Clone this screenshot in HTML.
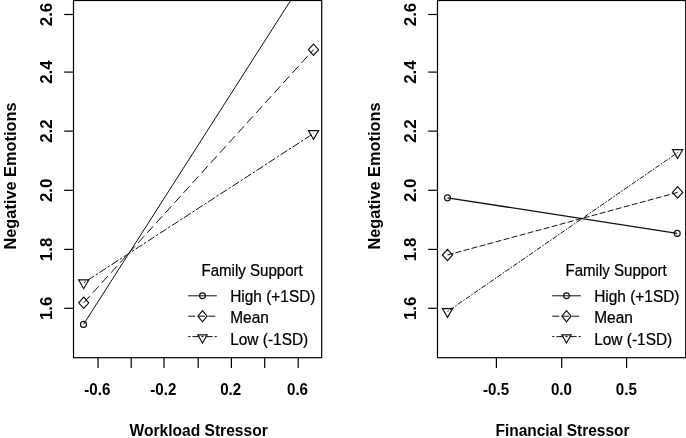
<!DOCTYPE html>
<html><head><meta charset="utf-8"><title>Interaction plots</title>
<style>
html,body{margin:0;padding:0;background:#fff;}
body{width:686px;height:438px;overflow:hidden;}
svg{display:block;}
text{font-family:"Liberation Sans",Arial,Helvetica,sans-serif;fill:#000;}
text.b{font-weight:bold;font-size:16.5px;}
text.r{font-weight:normal;font-size:16.6px;fill:#000;stroke:#000;stroke-width:0.25px;}
text.yt{font-size:16.9px;}
text.xt{font-size:16.9px;}
</style></head><body>
<svg width="686" height="438" viewBox="0 0 686 438">
<rect x="0" y="0" width="686" height="438" fill="#fff"/>
<clipPath id="cl"><rect x="73.5" y="0.5" width="248.2" height="357.2"/></clipPath>
<line x1="83.5" y1="324.4" x2="313.5" y2="-35.3" stroke="#111" stroke-width="1.0" clip-path="url(#cl)"/>
<line x1="83.7" y1="302.8" x2="313.5" y2="49.7" stroke="#111" stroke-width="1.0" stroke-dasharray="9 4.5" clip-path="url(#cl)"/>
<line x1="83.7" y1="282.8" x2="313.5" y2="133.5" stroke="#111" stroke-width="1.0" stroke-dasharray="2.4 2 8 2" clip-path="url(#cl)"/>
<circle cx="83.5" cy="324.4" r="3" fill="none" stroke="#111" stroke-width="1.15"/>
<polygon points="78.60000000000001,302.8 83.7,297.1 88.8,302.8 83.7,308.5" fill="none" stroke="#111" stroke-width="1.15"/>
<polygon points="308.4,49.7 313.5,44.0 318.6,49.7 313.5,55.400000000000006" fill="none" stroke="#111" stroke-width="1.15"/>
<polygon points="83.70,288.70 88.81,279.85 78.59,279.85" fill="none" stroke="#111" stroke-width="1.15"/>
<polygon points="313.50,139.40 318.61,130.55 308.39,130.55" fill="none" stroke="#111" stroke-width="1.15"/>
<rect x="73.5" y="0.5" width="248.2" height="357.2" fill="none" stroke="#000" stroke-width="1.2"/>
<line x1="64.2" y1="308.3" x2="73.5" y2="308.3" stroke="#000" stroke-width="1.2"/>
<text class="b yt" text-anchor="middle" transform="translate(51.9,308.3) rotate(-90)">1.6</text>
<line x1="64.2" y1="249.4" x2="73.5" y2="249.4" stroke="#000" stroke-width="1.2"/>
<text class="b yt" text-anchor="middle" transform="translate(51.9,249.4) rotate(-90)">1.8</text>
<line x1="64.2" y1="190.3" x2="73.5" y2="190.3" stroke="#000" stroke-width="1.2"/>
<text class="b yt" text-anchor="middle" transform="translate(51.9,190.3) rotate(-90)">2.0</text>
<line x1="64.2" y1="131.1" x2="73.5" y2="131.1" stroke="#000" stroke-width="1.2"/>
<text class="b yt" text-anchor="middle" transform="translate(51.9,131.1) rotate(-90)">2.2</text>
<line x1="64.2" y1="72.1" x2="73.5" y2="72.1" stroke="#000" stroke-width="1.2"/>
<text class="b yt" text-anchor="middle" transform="translate(51.9,72.1) rotate(-90)">2.4</text>
<line x1="64.2" y1="14.5" x2="73.5" y2="14.5" stroke="#000" stroke-width="1.2"/>
<text class="b yt" text-anchor="middle" transform="translate(51.9,14.5) rotate(-90)">2.6</text>
<text class="b" text-anchor="middle" textLength="147" lengthAdjust="spacingAndGlyphs" transform="translate(15.7,176) rotate(-90)">Negative Emotions</text>
<line x1="98.05" y1="357.7" x2="98.05" y2="367.9" stroke="#000" stroke-width="1.2"/>
<line x1="131.2" y1="357.7" x2="131.2" y2="367.9" stroke="#000" stroke-width="1.2"/>
<line x1="164.0" y1="357.7" x2="164.0" y2="367.9" stroke="#000" stroke-width="1.2"/>
<line x1="198.2" y1="357.7" x2="198.2" y2="367.9" stroke="#000" stroke-width="1.2"/>
<line x1="231.4" y1="357.7" x2="231.4" y2="367.9" stroke="#000" stroke-width="1.2"/>
<line x1="264.7" y1="357.7" x2="264.7" y2="367.9" stroke="#000" stroke-width="1.2"/>
<line x1="298.2" y1="357.7" x2="298.2" y2="367.9" stroke="#000" stroke-width="1.2"/>
<text class="b xt" text-anchor="middle" transform="translate(97.35,394.8) scale(0.895,1)">-0.6</text>
<text class="b xt" text-anchor="middle" transform="translate(163.3,394.8) scale(0.895,1)">-0.2</text>
<text class="b xt" text-anchor="middle" transform="translate(230.70000000000002,394.8) scale(0.895,1)">0.2</text>
<text class="b xt" text-anchor="middle" transform="translate(297.5,394.8) scale(0.895,1)">0.6</text>
<text class="b" text-anchor="middle" transform="translate(198.6,436.2) scale(0.945,1)">Workload Stressor</text>
<line x1="188.2" y1="295.8" x2="216.8" y2="295.8" stroke="#111" stroke-width="1"/>
<circle cx="202.5" cy="295.8" r="2.9" fill="none" stroke="#111" stroke-width="1.15"/>
<line x1="188.2" y1="316.2" x2="216.8" y2="316.2" stroke="#111" stroke-width="1" stroke-dasharray="7 3"/>
<polygon points="197.9,316.2 202.5,310.59999999999997 207.1,316.2 202.5,321.8" fill="none" stroke="#111" stroke-width="1.15"/>
<line x1="188.2" y1="336.6" x2="216.8" y2="336.6" stroke="#111" stroke-width="1" stroke-dasharray="2.2 2 7 2"/>
<polygon points="202.50,343.00 207.18,334.90 197.82,334.90" fill="none" stroke="#111" stroke-width="1.15"/>
<text class="r" transform="translate(201.5,275.8) scale(0.908,1)">Family Support</text>
<text class="r" transform="translate(230.2,302.3) scale(0.93,1)">High (+1SD)</text>
<text class="r" transform="translate(230.2,323.4) scale(0.93,1)">Mean</text>
<text class="r" transform="translate(230.2,344.5) scale(0.93,1)">Low (-1SD)</text>
<clipPath id="cr"><rect x="437.5" y="0.5" width="248.20000000000005" height="357.2"/></clipPath>
<line x1="447.5" y1="197.8" x2="677.2" y2="233.4" stroke="#111" stroke-width="1.35" clip-path="url(#cr)"/>
<line x1="447.5" y1="255.0" x2="677.6" y2="192.4" stroke="#111" stroke-width="1.0" stroke-dasharray="6 2.3" clip-path="url(#cr)"/>
<line x1="447.5" y1="311.5" x2="677.6" y2="152.6" stroke="#111" stroke-width="1.0" stroke-dasharray="1.6 1.5 5 1.5" clip-path="url(#cr)"/>
<circle cx="447.5" cy="197.8" r="3" fill="none" stroke="#111" stroke-width="1.15"/>
<circle cx="677.2" cy="233.4" r="3" fill="none" stroke="#111" stroke-width="1.15"/>
<polygon points="442.4,255.0 447.5,249.3 452.6,255.0 447.5,260.7" fill="none" stroke="#111" stroke-width="1.15"/>
<polygon points="672.5,192.4 677.6,186.70000000000002 682.7,192.4 677.6,198.1" fill="none" stroke="#111" stroke-width="1.15"/>
<polygon points="447.50,317.40 452.61,308.55 442.39,308.55" fill="none" stroke="#111" stroke-width="1.15"/>
<polygon points="677.60,158.50 682.71,149.65 672.49,149.65" fill="none" stroke="#111" stroke-width="1.15"/>
<rect x="437.5" y="0.5" width="248.20000000000005" height="357.2" fill="none" stroke="#000" stroke-width="1.2"/>
<line x1="428.2" y1="308.3" x2="437.5" y2="308.3" stroke="#000" stroke-width="1.2"/>
<text class="b yt" text-anchor="middle" transform="translate(415.9,308.3) rotate(-90)">1.6</text>
<line x1="428.2" y1="249.4" x2="437.5" y2="249.4" stroke="#000" stroke-width="1.2"/>
<text class="b yt" text-anchor="middle" transform="translate(415.9,249.4) rotate(-90)">1.8</text>
<line x1="428.2" y1="190.3" x2="437.5" y2="190.3" stroke="#000" stroke-width="1.2"/>
<text class="b yt" text-anchor="middle" transform="translate(415.9,190.3) rotate(-90)">2.0</text>
<line x1="428.2" y1="131.1" x2="437.5" y2="131.1" stroke="#000" stroke-width="1.2"/>
<text class="b yt" text-anchor="middle" transform="translate(415.9,131.1) rotate(-90)">2.2</text>
<line x1="428.2" y1="72.1" x2="437.5" y2="72.1" stroke="#000" stroke-width="1.2"/>
<text class="b yt" text-anchor="middle" transform="translate(415.9,72.1) rotate(-90)">2.4</text>
<line x1="428.2" y1="14.5" x2="437.5" y2="14.5" stroke="#000" stroke-width="1.2"/>
<text class="b yt" text-anchor="middle" transform="translate(415.9,14.5) rotate(-90)">2.6</text>
<text class="b" text-anchor="middle" textLength="147" lengthAdjust="spacingAndGlyphs" transform="translate(379.7,176) rotate(-90)">Negative Emotions</text>
<line x1="496.4" y1="357.7" x2="496.4" y2="367.9" stroke="#000" stroke-width="1.2"/>
<line x1="561.7" y1="357.7" x2="561.7" y2="367.9" stroke="#000" stroke-width="1.2"/>
<line x1="626.6" y1="357.7" x2="626.6" y2="367.9" stroke="#000" stroke-width="1.2"/>
<text class="b xt" text-anchor="middle" transform="translate(496.09999999999997,394.8) scale(0.895,1)">-0.5</text>
<text class="b xt" text-anchor="middle" transform="translate(561.4000000000001,394.8) scale(0.895,1)">0.0</text>
<text class="b xt" text-anchor="middle" transform="translate(626.3000000000001,394.8) scale(0.895,1)">0.5</text>
<text class="b" text-anchor="middle" transform="translate(562.5,436.2) scale(0.938,1)">Financial Stressor</text>
<line x1="552.2" y1="295.8" x2="580.8" y2="295.8" stroke="#111" stroke-width="1"/>
<circle cx="566.5" cy="295.8" r="2.9" fill="none" stroke="#111" stroke-width="1.15"/>
<line x1="552.2" y1="316.2" x2="580.8" y2="316.2" stroke="#111" stroke-width="1" stroke-dasharray="7 3"/>
<polygon points="561.9,316.2 566.5,310.59999999999997 571.1,316.2 566.5,321.8" fill="none" stroke="#111" stroke-width="1.15"/>
<line x1="552.2" y1="336.6" x2="580.8" y2="336.6" stroke="#111" stroke-width="1" stroke-dasharray="2.2 2 7 2"/>
<polygon points="566.50,343.00 571.18,334.90 561.82,334.90" fill="none" stroke="#111" stroke-width="1.15"/>
<text class="r" transform="translate(565.5,275.8) scale(0.908,1)">Family Support</text>
<text class="r" transform="translate(594.2,302.3) scale(0.93,1)">High (+1SD)</text>
<text class="r" transform="translate(594.2,323.4) scale(0.93,1)">Mean</text>
<text class="r" transform="translate(594.2,344.5) scale(0.93,1)">Low (-1SD)</text>
</svg>
</body></html>
